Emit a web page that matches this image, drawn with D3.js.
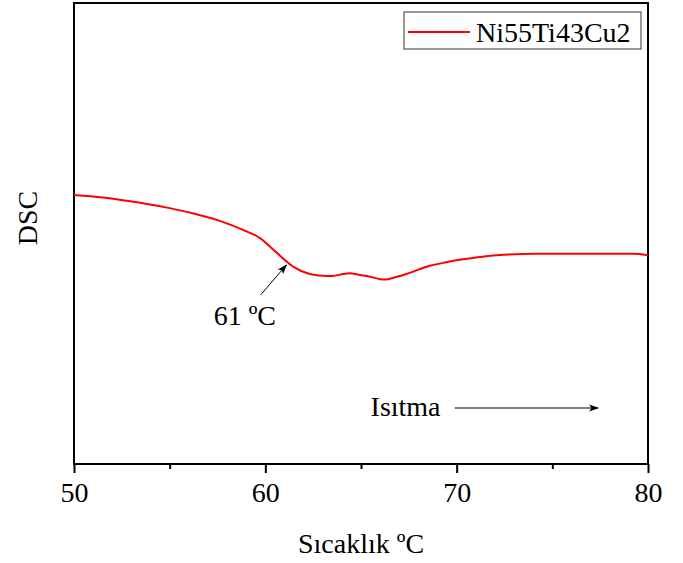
<!DOCTYPE html>
<html>
<head>
<meta charset="utf-8">
<script src="https://cdn.jsdelivr.net/npm/d3@7"></script>
<style>
  body { margin: 0; background: #fff; }
</style>
</head>
<body>
<div class="chart"></div>
<script>
"use strict"
// temperature (ºC) and DSC signal (arbitrary units)
let temps = [50, 51.5, 52.75, 55, 56.2, 57.5, 58.83, 59.72, 60.6, 61, 61.45, 62.33, 62.8, 63.2, 63.5, 64.06, 64.4, 64.95, 65.5, 66.0, 66.2, 66.87, 67.5, 68.6, 69.5, 70.33, 71, 72.1, 74.2, 76.45, 79.2, 80];
let dsc = [58.35, 57.8, 57.1, 55.5, 54.4, 52.9, 50.8, 49.0, 45.8, 44.3, 42.8, 41.2, 40.9, 40.8, 40.8, 41.2, 41.4, 41.0, 40.6, 40.1, 40.0, 40.6, 41.4, 43.0, 43.8, 44.4, 44.8, 45.3, 45.6, 45.6, 45.6, 45.3];
let seriesName = "Ni55Ti43Cu2";
let majorTicks = [50, 60, 70, 80];
let minorTicks = [55, 65, 75];
let xLabel = "Sıcaklık ºC";
let yLabel = "DSC";
let peakLabel = "61 ºC";
let heatLabel = "Isıtma";

let W = 683, H = 563;
let mLeft = 74, mRight = 648, mTop = 3, mBottom = 464;
let serif = "'Liberation Serif', 'Times New Roman', Times, 'DejaVu Serif', serif";

let s = d3.select(".chart")
  .append("svg")
  .attr("width", W)
  .attr("height", H)
  .attr("font-family", serif);

let x = d3.scaleLinear().domain([50, 80]).range([mLeft, mRight]);
let y = d3.scaleLinear().domain([0, 100]).range([mBottom, mTop]);

function label(sel) {
  return sel.attr("font-family", serif)
    .style("font-family", serif)
    .attr("font-size", 28)
    .attr("fill", "#000");
}

// minor ticks
s.append("g")
  .attr("transform", "translate(0," + mBottom + ")")
  .call(d3.axisBottom(x).tickValues(minorTicks).tickSize(5).tickFormat(""))
  .call(g => g.select(".domain").remove())
  .selectAll("line").attr("stroke", "#000").attr("stroke-width", 2);

// major ticks + labels
let ax = s.append("g")
  .attr("transform", "translate(0," + mBottom + ")")
  .call(d3.axisBottom(x).tickValues(majorTicks).tickSize(9).tickFormat(d3.format("d")));
ax.attr("font-family", serif);
ax.select(".domain").remove();
ax.selectAll("line").attr("stroke", "#000").attr("stroke-width", 2);
ax.selectAll("text")
  .attr("y", 38)
  .attr("dy", 0)
  .call(label);

// frame
s.append("rect")
  .attr("x", mLeft).attr("y", mTop)
  .attr("width", mRight - mLeft).attr("height", mBottom - mTop)
  .attr("fill", "none")
  .attr("stroke", "#000")
  .attr("stroke-width", 2);

// curve
let line = d3.line()
  .x((d, i) => x(temps[i]))
  .y(d => y(d))
  .curve(d3.curveMonotoneX);

s.append("path")
  .datum(dsc)
  .attr("d", line)
  .attr("fill", "none")
  .attr("stroke", "#ff0000")
  .attr("stroke-width", 2);

// arrow marker
s.append("defs").append("marker")
  .attr("id", "head")
  .attr("viewBox", "0 0 10 10")
  .attr("refX", 9).attr("refY", 5)
  .attr("markerWidth", 10).attr("markerHeight", 10)
  .attr("markerUnits", "userSpaceOnUse")
  .attr("orient", "auto")
  .append("path")
  .attr("d", "M0,1.5 L10,5 L0,8.5 L2,5 Z")
  .attr("fill", "#000");

// 61 ºC annotation
s.append("line")
  .attr("x1", x(59.75)).attr("y1", 295)
  .attr("x2", x(61.1)).attr("y2", 265)
  .attr("stroke", "#000").attr("stroke-width", 1)
  .attr("marker-end", "url(#head)");
s.append("text")
  .attr("x", x(57.3)).attr("y", 325)
  .call(label)
  .text(peakLabel);

// heating direction
s.append("text")
  .attr("x", x(65.5)).attr("y", 416)
  .call(label)
  .text(heatLabel);
s.append("line")
  .attr("x1", x(69.9)).attr("y1", 408)
  .attr("x2", x(77.4)).attr("y2", 408)
  .attr("stroke", "#000").attr("stroke-width", 1.2)
  .attr("marker-end", "url(#head)");

// axis titles
s.append("text")
  .attr("x", (mLeft + mRight) / 2).attr("y", 553)
  .attr("text-anchor", "middle")
  .call(label)
  .text(xLabel);
s.append("text")
  .attr("transform", "translate(37,218) rotate(-90)")
  .attr("text-anchor", "middle")
  .call(label)
  .text(yLabel);

// legend
let lg = s.append("g");
lg.append("rect")
  .attr("x", 404).attr("y", 12)
  .attr("width", 237).attr("height", 37)
  .attr("fill", "#fff")
  .attr("stroke", "#555")
  .attr("stroke-width", 1.2);
lg.append("line")
  .attr("x1", 408).attr("x2", 470)
  .attr("y1", 32).attr("y2", 32)
  .attr("stroke", "#ff0000").attr("stroke-width", 2);
lg.append("text")
  .attr("x", 476).attr("y", 42)
  .call(label)
  .text(seriesName);
</script>
</body>
</html>
